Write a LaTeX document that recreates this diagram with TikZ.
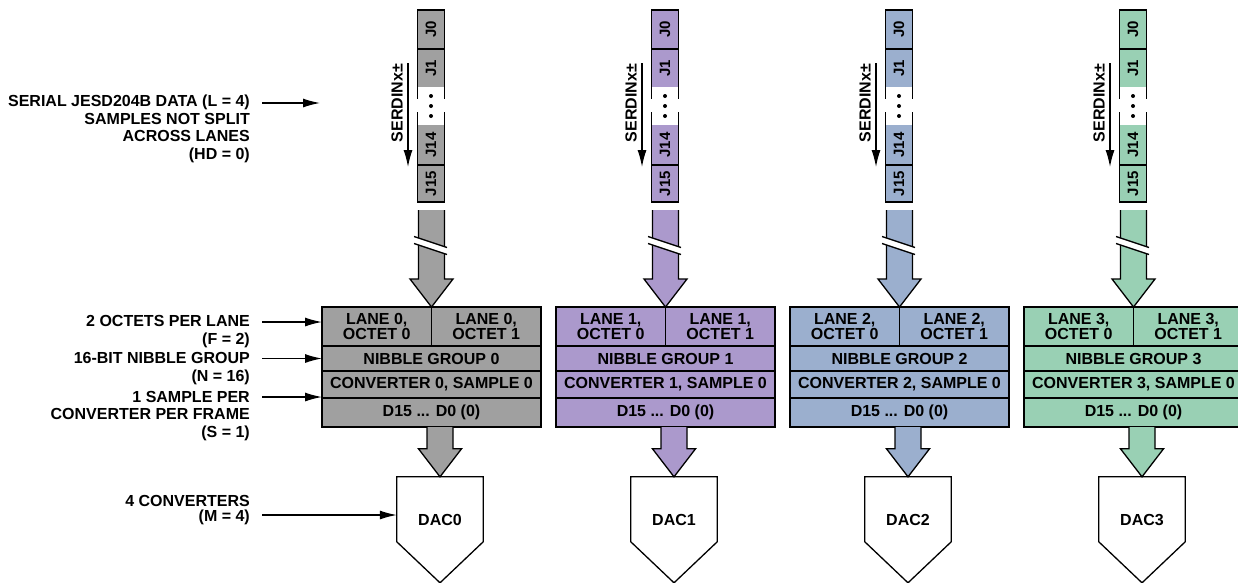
\documentclass[tikz,border=0pt]{standalone}
\usepackage{fontspec}
\usepackage{graphicx}
\setmainfont{Liberation Sans}
\usetikzlibrary{arrows.meta, positioning, calc}
\definecolor{cGray}{RGB}{160,160,160}
\definecolor{cPurple}{RGB}{171,153,204}
\definecolor{cBlue}{RGB}{155,175,206}
\definecolor{cGreen}{RGB}{153,208,180}
\tikzset{
	lbl/.style={align=right, inner sep=0pt},
	cell/.style={rectangle, draw=black, line width=1.1pt, inner sep=0pt, outer sep=0pt, align=center, font=\bfseries\fontsize{16}{14.5}\selectfont},
	lanebox/.style={rectangle, inner sep=0pt, outer sep=0pt, minimum width=27pt, font=\bfseries\fontsize{15}{15}\selectfont},
	dacnode/.style={rectangle, inner sep=0pt, minimum width=86pt, minimum height=86pt},
	edge/.style={line width=1.3pt},
	thinarrow/.style={-{Latex[length=17pt,width=9pt]}, line width=1.3pt},
	fatarr/.style={draw=black, line width=1.3pt, line join=miter},
}
% fat outlined arrow: fill colour, start (top of shaft), tip
\newcommand{\fatarrow}[3]{%
	\filldraw[fatarr, fill=#1] let \p1=(#2), \p2=(#3) in
	(\x2-13pt,\y1) -- (\x2-13pt,\y2+28pt) -- (\x2-21.5pt,\y2+28pt) -- (\x2,\y2)
	-- (\x2+21.5pt,\y2+28pt) -- (\x2+13pt,\y2+28pt) -- (\x2+13pt,\y1);}

\begin{document}
\begin{tikzpicture}[x=1pt, y=-1pt, font=\bfseries\fontsize{16}{17.5}\selectfont]
\useasboundingbox[fill=white] (0,0) rectangle (1238,582);

% notes on the left
\node[lbl, anchor=north east] (lser) at (250,95) {SERIAL JESD204B DATA (L = 4)\\SAMPLES NOT SPLIT\\ACROSS LANES\\(HD = 0)};
\node[lbl, anchor=north east] (loct) at (250,315.5) {2 OCTETS PER LANE\\(F = 2)};
\node[lbl, anchor=north east] (lnib) at (250,352.5) {16-BIT NIBBLE GROUP\\(N = 16)};
\node[lbl, anchor=north east] (lsmp) at (250,391) {1 SAMPLE PER\\CONVERTER PER FRAME\\(S = 1)};
\node[lbl, anchor=east, font=\bfseries\fontsize{16}{15}\selectfont] (lcnv) at (250,510) {4 CONVERTERS\\(M = 4)};

\foreach \i/\col in {0/cGray,1/cPurple,2/cBlue,3/cGreen} {
	\pgfmathsetmacro\cx{431+234*\i}
	\pgfmathsetmacro\bx{322+234*\i}
	\pgfmathsetmacro\dx{440+234*\i}
	% serial lane
	\node[lanebox, fill=\col, minimum height=39pt] (ja\i) at (\cx,29.5) {\rotatebox{90}{J0}};
	\node[lanebox, fill=\col, minimum height=38pt, below=0pt of ja\i] (jb\i) {\rotatebox{90}{J1}};
	\node[lanebox, fill=\col, minimum height=40pt] (jc\i) at (\cx,145) {\rotatebox{90}{J14}};
	\node[lanebox, fill=\col, minimum height=37pt, below=0pt of jc\i] (jd\i) {\rotatebox{90}{J15}};
	\draw[edge] (ja\i.north west) rectangle (ja\i.south east);
	\draw[edge] (ja\i.south west) -- ++(0,50) (ja\i.south east) -- ++(0,50);
	\draw[edge] (jd\i.north west) -- ++(0,-53) (jd\i.north east) -- ++(0,-53);
	\draw[edge] (jd\i.north west) rectangle (jd\i.south east);
	\foreach \d in {96,106,116} \fill (\cx,\d) circle (2pt);
	\node[inner sep=0pt] (sd\i) at (\cx-34,103) {\rotatebox{90}{SERDINx±}};
	\coordinate (sdt\i) at (\cx-23,63);
	\coordinate (sdb\i) at (\cx-23,167);
	\draw[thinarrow] (sdt\i) -- (sdb\i);
	% frame block
	\node[cell, fill=\col, minimum width=109.5pt, minimum height=39pt, anchor=north west] (oa\i) at (\bx,307) {LANE \i,\\OCTET 0};
	\node[cell, fill=\col, minimum width=109.5pt, minimum height=39pt, right=0pt of oa\i] (ob\i) {LANE \i,\\OCTET 1};
	\node[cell, fill=\col, minimum width=219pt, minimum height=25pt, anchor=north west] (nb\i) at (oa\i.south west) {NIBBLE GROUP \i};
	\node[cell, fill=\col, minimum width=219pt, minimum height=27pt, anchor=north west] (cv\i) at (nb\i.south west) {CONVERTER \i, SAMPLE 0};
	\node[cell, fill=\col, minimum width=219pt, minimum height=29pt, anchor=north west] (dd\i) at (cv\i.south west) {D15 ... D0 (0)};
	\draw[line width=1.8pt] (oa\i.north west) rectangle (dd\i.south east);
	% lane to block, with break
	\fatarrow{\col}{$(jd\i.south)+(0,8)$}{oa\i.north east}
	\fill[white] (\cx-17,236.5) -- (\cx+16,247.5) -- (\cx+16,254.5) -- (\cx-17,243.5) -- cycle;
	\draw[edge] (\cx-17,236.5) -- (\cx+16,247.5) (\cx-17,243.5) -- (\cx+16,254.5);
	% converter
	\node[dacnode] (dac\i) at (\dx,520) {DAC\i};
	\fatarrow{\col}{dd\i.south}{dac\i.north}
	\draw[edge] (dac\i.north west) -- (dac\i.north east) -- ++(0,65) -- ($(dac\i.north)+(0,106)$) -- ($(dac\i.north west)+(0,65)$) -- cycle;
}

\coordinate (sertip) at (320,103);
\draw[thinarrow] ($(lser.north east)+(12,8)$) -- (sertip);
\draw[thinarrow] ($(loct.north east)+(12,6.5)$) coordinate (s1) -- (s1 -| oa0.west);
\draw[thinarrow] ($(lnib.north east)+(12,6)$) coordinate (s2) -- (s2 -| nb0.west);
\draw[thinarrow] ($(lsmp.north east)+(12,6)$) coordinate (s3) -- (s3 -| cv0.west);
\draw[thinarrow] ($(lcnv.east)+(12,5)$) coordinate (s4) -- (s4 -| dac0.west);
\end{tikzpicture}
\end{document}
